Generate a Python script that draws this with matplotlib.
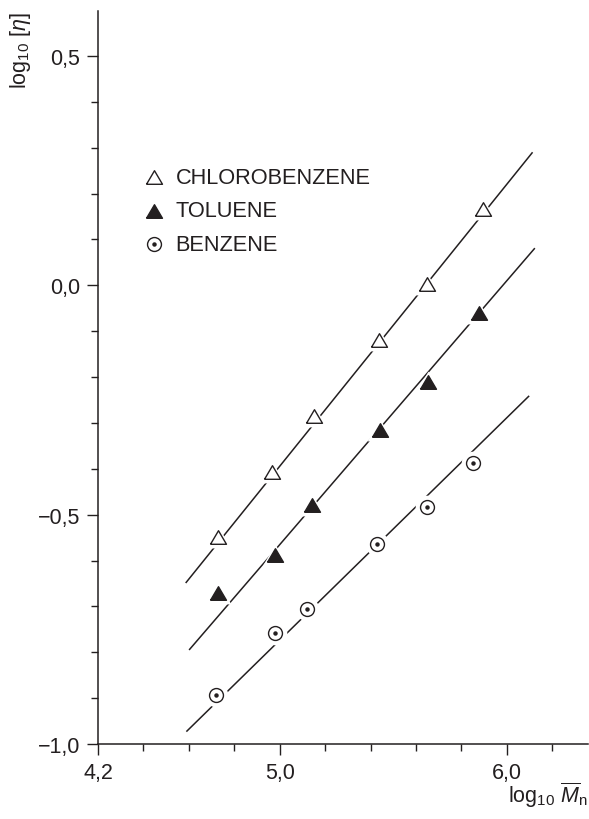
import numpy as np
import matplotlib
matplotlib.use('Agg')
import matplotlib.pyplot as plt
from matplotlib.ticker import FixedLocator, FixedFormatter

plt.rcParams['font.family'] = ['Liberation Sans', 'DejaVu Sans']
plt.rcParams['mathtext.fontset'] = 'custom'
plt.rcParams['mathtext.rm'] = 'Liberation Sans'
plt.rcParams['mathtext.it'] = 'Liberation Sans:italic'

INK = '#231f20'

# log10 Mn vs log10 [eta] per solvent
mw_chloro = [4.729, 4.967, 5.152, 5.438, 5.649, 5.896]
eta_chloro = [-0.548, -0.406, -0.284, -0.119, 0.003, 0.166]
mw_toluene = [4.729, 4.981, 5.141, 5.441, 5.654, 5.878]
eta_toluene = [-0.671, -0.589, -0.480, -0.315, -0.210, -0.060]
mw_benzene = [4.719, 4.980, 5.120, 5.427, 5.649, 5.852]
eta_benzene = [-0.893, -0.759, -0.706, -0.563, -0.484, -0.387]

# straight-line fits, end points
fit_x_chloro = [4.586, 6.113]
fit_y_chloro = [-0.649, 0.290]
fit_x_toluene = [4.601, 6.123]
fit_y_toluene = [-0.795, 0.081]
fit_x_benzene = [4.589, 6.098]
fit_y_benzene = [-0.973, -0.241]

labels = ['CHLOROBENZENE', 'TOLUENE', 'BENZENE']

xmajor = [4.2, 5.0, 6.0]
xmajor_labels = ['4,2', '5,0', '6,0']
xminor = [4.4, 4.6, 4.8, 5.2, 5.4, 5.6, 5.8, 6.2]
ymajor = [-1.0, -0.5, 0.0, 0.5]
ymajor_labels = ['\u22121,0', '\u22120,5', '0,0', '0,5']
yminor = [-0.9, -0.8, -0.7, -0.6, -0.4, -0.3, -0.2, -0.1, 0.1, 0.2, 0.3, 0.4]

tri = [(-1, -0.85), (1, -0.85), (0, 0.85), (-1, -0.85)]

# marker styles per solvent
styles = [
    dict(marker=tri, ms=11.5, mfc='white', mec=INK, mew=1.0),
    dict(marker=tri, ms=11.5, mfc=INK, mec=INK, mew=1.0),
    dict(marker='o', ms=10.0, mfc='white', mec=INK, mew=1.0),
]

fig = plt.figure(figsize=(5.89, 8.20), dpi=100)
ax = fig.add_axes([98 / 589, 1 - 745 / 820, 490 / 589, 733 / 820])

series = [
    (mw_chloro, eta_chloro, fit_x_chloro, fit_y_chloro),
    (mw_toluene, eta_toluene, fit_x_toluene, fit_y_toluene),
    (mw_benzene, eta_benzene, fit_x_benzene, fit_y_benzene),
]

for (x, y, fx, fy), st in zip(series, styles):
    ax.plot(fx, fy, color=INK, lw=1.1, zorder=1, solid_capstyle='butt')
    # white halo so the line breaks around each point
    ax.plot(x, y, ls='none', marker=st['marker'], ms=st['ms'] + 7,
            mfc='white', mec='white', mew=0, zorder=2)
    ax.plot(x, y, ls='none', zorder=3, **st)

# dots inside the benzene circles
ax.plot(mw_benzene, eta_benzene, ls='none', marker='o', ms=2.2,
        mfc=INK, mec=INK, zorder=4)

# key
key_x, text_x = 0.1153, 0.1586
key_y = [0.7731, 0.7272, 0.6817]
for lab, st, ky in zip(labels, styles, key_y):
    ax.plot([key_x], [ky], ls='none', transform=ax.transAxes, **st)
    ax.text(text_x, ky, lab, transform=ax.transAxes, fontsize=15.7,
            color=INK, va='center', ha='left')
ax.plot([key_x], [key_y[2]], ls='none', marker='o', ms=2.2, mfc=INK,
        mec=INK, transform=ax.transAxes)

ax.set_xlim(4.2, 6.357)
ax.set_ylim(-1.0, 0.598)

for s in ['top', 'right']:
    ax.spines[s].set_visible(False)
for s in ['left', 'bottom']:
    ax.spines[s].set_linewidth(1.1)
    ax.spines[s].set_color(INK)

ax.xaxis.set_major_locator(FixedLocator(xmajor))
ax.xaxis.set_major_formatter(FixedFormatter(xmajor_labels))
ax.xaxis.set_minor_locator(FixedLocator(xminor))
ax.yaxis.set_major_locator(FixedLocator(ymajor))
ax.yaxis.set_major_formatter(FixedFormatter(ymajor_labels))
ax.yaxis.set_minor_locator(FixedLocator(yminor))

ax.tick_params(which='major', length=8, width=1.0, color=INK,
               labelsize=15.5, labelcolor=INK, pad=5)
ax.tick_params(which='minor', length=5, width=1.0, color=INK)

fig.text(0.034, 0.985, r'$\mathregular{log_{10}\ [}\eta\mathregular{]}$',
         rotation=90, va='top', ha='center', fontsize=15.5, color=INK)
fig.text(0.997, 0.012, r'$\mathregular{log_{10}}\ \overline{M}_\mathregular{n}$',
         va='bottom', ha='right', fontsize=15.5, color=INK)

fig.savefig('out.png', dpi=100)
